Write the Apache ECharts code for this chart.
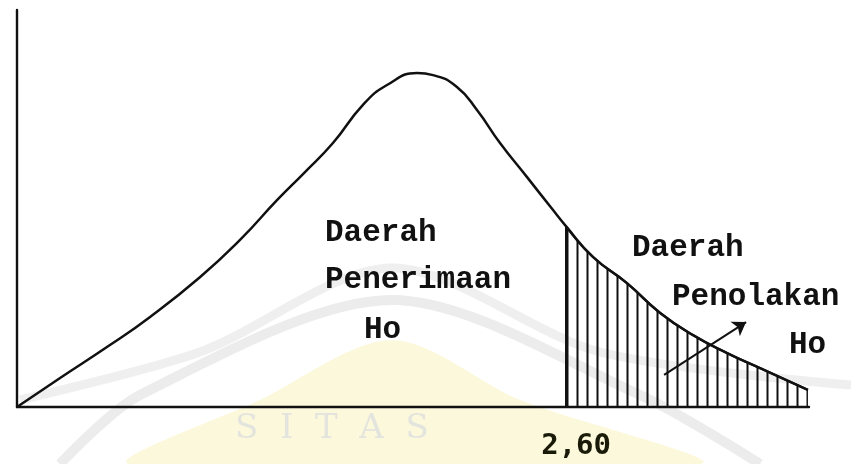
<!DOCTYPE html>
<html>
<head>
<meta charset="utf-8">
<script src="https://cdn.jsdelivr.net/npm/echarts@6/dist/echarts.min.js"></script>
<style>
html,body{margin:0;padding:0;background:#fff;}
#chart{width:851px;height:464px;}
</style>
</head>
<body>
<div id="chart"></div>
<script>
// Curve (x, density)
const curveX = [0, 0.204, 0.44, 0.63, 0.866, 1.056, 1.231, 1.36, 1.496, 1.638, 1.752, 1.894, 1.97, 2.083, 2.178, 2.287, 2.415, 2.538, 2.6, 2.727, 2.888, 3.045, 3.201, 3.362, 3.518, 3.745];
const curveY = [0, 0.073, 0.156, 0.227, 0.327, 0.421, 0.521, 0.59, 0.665, 0.761, 0.811, 0.841, 0.836, 0.806, 0.748, 0.665, 0.579, 0.496, 0.455, 0.378, 0.312, 0.237, 0.181, 0.136, 0.098, 0.043];
const criticalValue = 2.6;
const criticalLabel = ['2,60'];
const arrowFrom = [3.064, 0.081];
const arrowTo = [3.452, 0.214];

const curve = curveX.map((x, i) => [x, curveY[i]]);
const tail = [[criticalValue, 0]].concat(curve.filter(p => p[0] >= criticalValue));

// hatching pattern (vertical lines)
const pc = document.createElement('canvas');
pc.width = 10; pc.height = 10;
const pctx = pc.getContext('2d');
pctx.fillStyle = '#111';
pctx.fillRect(6.5, 0, 2, 10);

const chart = echarts.init(document.getElementById('chart'), null, {renderer: 'canvas'});
const mono = "'Liberation Mono', 'DejaVu Sans Mono', monospace";

chart.setOption({
  animation: false,
  backgroundColor: '#ffffff',
  grid: {left: 17, top: 10, width: 792, height: 397, containLabel: false},
  xAxis: {
    type: 'value', min: 0, max: 3.75,
    axisLine: {show: true, onZero: false, lineStyle: {color: '#111', width: 2.4}},
    axisTick: {show: false},
    splitLine: {show: false},
    axisLabel: {
      show: true,
      customValues: [criticalValue],
      formatter: () => criticalLabel[0],
      margin: 25,
      padding: [0, 0, 0, 20],
      fontFamily: "'DejaVu Sans Mono', monospace",
      fontWeight: 'bold',
      fontSize: 29,
      color: '#1a1a08'
    }
  },
  yAxis: {
    type: 'value', min: 0, max: 1,
    axisLine: {show: true, lineStyle: {color: '#111', width: 2.4}},
    axisTick: {show: false},
    axisLabel: {show: false},
    splitLine: {show: false}
  },
  graphic: [
    // faint watermark
    {type: 'polygon', z: -10, silent: true,
     shape: {points: [[130,464],[260,400],[392,340],[520,400],[700,464]], smooth: 0.3},
     style: {fill: '#fcf8dc'}},
    {type: 'polyline', z: -9, silent: true,
     shape: {points: [[60,464],[140,395],[392,300],[640,395],[760,464]], smooth: 0.3},
     style: {fill: null, stroke: '#ececec', lineWidth: 10}},
    {type: 'polyline', z: -9, silent: true,
     shape: {points: [[20,400],[200,352],[392,268],[600,352],[851,385]], smooth: 0.3},
     style: {fill: null, stroke: '#efefef', lineWidth: 9}},
    {type: 'text', z: -8, silent: true, left: 235, top: 412,
     style: {text: 'S  I  T  A  S', font: "34px 'DejaVu Serif', serif", fill: '#e4e4de'}},
    // annotations
    {type: 'text', left: 325, top: 218, style: {text: 'Daerah', font: 'bold 31px ' + mono, fill: '#111'}},
    {type: 'text', left: 325, top: 265, style: {text: 'Penerimaan', font: 'bold 31px ' + mono, fill: '#111'}},
    {type: 'text', left: 364, top: 315, style: {text: 'Ho', font: 'bold 31px ' + mono, fill: '#111'}},
    {type: 'text', left: 632, top: 233, style: {text: 'Daerah', font: 'bold 31px ' + mono, fill: '#111'}},
    {type: 'text', left: 672, top: 282, style: {text: 'Penolakan', font: 'bold 31px ' + mono, fill: '#111'}},
    {type: 'text', left: 789, top: 330, style: {text: 'Ho', font: 'bold 31px ' + mono, fill: '#111'}}
  ],
  series: [
    {
      type: 'line', data: curve, smooth: 0.5, symbol: 'none',
      lineStyle: {color: '#111', width: 2.5}, z: 3
    },
    {
      type: 'line', data: tail, smooth: 0.5, symbol: 'none',
      lineStyle: {color: '#111', width: 2.2},
      areaStyle: {color: {image: pc, repeat: 'repeat'}, opacity: 1},
      z: 2
    },
    {
      type: 'lines', coordinateSystem: 'cartesian2d',
      symbol: ['none', 'arrow'], symbolSize: 13,
      lineStyle: {color: '#111', width: 2, opacity: 1},
      data: [{coords: [arrowFrom, arrowTo]}], z: 4
    }
  ]
});
</script>
</body>
</html>
